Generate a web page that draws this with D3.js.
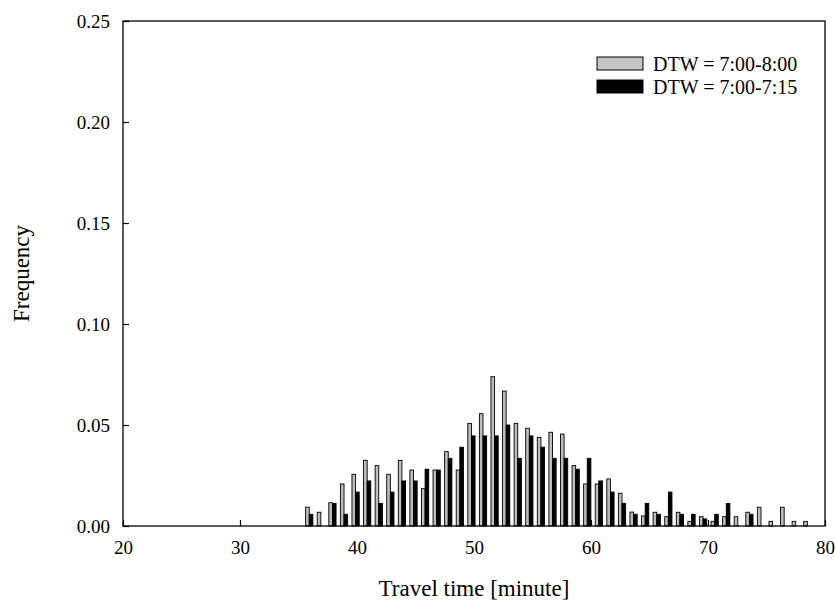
<!DOCTYPE html>
<html>
<head>
<meta charset="utf-8">
<script src="https://cdn.jsdelivr.net/npm/d3@7"></script>
<style>
  body { margin: 0; background: #fff; }
  svg { display: block; font-family: "Liberation Serif", "Times New Roman", serif; }
</style>
</head>
<body>
<div id="chart"></div>
<script>
// bin centres (minutes)
const binCenters = [35.92, 36.91, 37.90, 38.89, 39.88, 40.87, 41.86, 42.85, 43.84, 44.83,
  45.82, 46.81, 47.80, 48.79, 49.78, 50.77, 51.76, 52.75, 53.74, 54.73,
  55.72, 56.71, 57.70, 58.69, 59.68, 60.67, 61.66, 62.65, 63.64, 64.63,
  65.62, 66.61, 67.60, 68.59, 69.58, 70.57, 71.56, 72.55, 73.54, 74.53,
  75.52, 76.51, 77.50, 78.49];

// DTW = 7:00-8:00
const freqWide = [0.0093, 0.0068, 0.0115, 0.0208, 0.0256, 0.0325, 0.0299, 0.0256, 0.0325, 0.0277,
  0.0185, 0.0277, 0.0368, 0.0277, 0.0508, 0.0556, 0.0739, 0.0668, 0.0508, 0.0484,
  0.0439, 0.0464, 0.0455, 0.0299, 0.0208, 0.0208, 0.0233, 0.0162, 0.0069, 0.0050,
  0.0068, 0.0046, 0.0068, 0.0023, 0.0046, 0.0023, 0.0046, 0.0046, 0.0068, 0.0093,
  0.0023, 0.0093, 0.0023, 0.0023];

// DTW = 7:00-7:15
const freqNarrow = [0.0058, 0, 0.0112, 0.0058, 0.0168, 0.0223, 0.0112, 0.0168, 0.0223, 0.0223,
  0.0281, 0.0277, 0.0335, 0.0390, 0.0446, 0.0446, 0.0446, 0.0500, 0.0335, 0.0446,
  0.0390, 0.0335, 0.0335, 0.0281, 0.0335, 0.0223, 0.0168, 0.0112, 0.0058, 0.0112,
  0.0058, 0.0168, 0.0058, 0.0058, 0.0035, 0.0058, 0.0112, 0, 0.0058, 0,
  0, 0, 0, 0];

const seriesNames = ['DTW = 7:00-8:00', 'DTW = 7:00-7:15'];
const xTicks = [20, 30, 40, 50, 60, 70, 80];
const yTicks = [0, 0.05, 0.10, 0.15, 0.20, 0.25];

const width = 835, height = 603;
const margin = { top: 21, right: 10, bottom: 77, left: 123 };
const innerW = 825 - margin.left;
const innerH = height - margin.top - margin.bottom;

const svg = d3.select('#chart').append('svg')
  .attr('width', width)
  .attr('height', height);

const g = svg.append('g').attr('transform', `translate(${margin.left},${margin.top})`);

const x = d3.scaleLinear().domain([20, 80]).range([0, innerW]);
const y = d3.scaleLinear().domain([0, 0.25]).range([innerH, 0]);
const barW = x(20.31) - x(20);

// bars: grey on the left of each centre, black on the right
const bars = g.append('g');
binCenters.forEach((c, i) => {
  if (freqWide[i] > 0) {
    bars.append('rect')
      .attr('x', x(c) - barW)
      .attr('y', y(freqWide[i]))
      .attr('width', barW)
      .attr('height', y(0) - y(freqWide[i]))
      .attr('fill', '#bdbdbd')
      .attr('stroke', '#000')
      .attr('stroke-width', 0.9);
  }
  if (freqNarrow[i] > 0) {
    bars.append('rect')
      .attr('x', x(c))
      .attr('y', y(freqNarrow[i]))
      .attr('width', barW)
      .attr('height', y(0) - y(freqNarrow[i]))
      .attr('fill', '#000')
      .attr('stroke', '#000')
      .attr('stroke-width', 0.9);
  }
});

// axes (ticks point inward)
const xAxis = g.append('g').attr('transform', `translate(0,${innerH})`)
  .call(d3.axisBottom(x).tickValues(xTicks).tickSizeInner(-6).tickSizeOuter(0).tickPadding(15).tickFormat(d3.format('d')));
const yAxis = g.append('g')
  .call(d3.axisLeft(y).tickValues(yTicks).tickSizeInner(-6).tickSizeOuter(0).tickPadding(13).tickFormat(d3.format('.2f')));

[xAxis, yAxis].forEach(a => {
  a.attr('font-family', null).attr('font-size', 19);
  a.selectAll('text').attr('fill', '#000');
  a.selectAll('line').attr('stroke', '#000').attr('stroke-width', 1.2);
  a.select('.domain').remove();
});

// frame
g.append('rect')
  .attr('width', innerW)
  .attr('height', innerH)
  .attr('fill', 'none')
  .attr('stroke', '#000')
  .attr('stroke-width', 1.3);

// axis titles
svg.append('text')
  .attr('x', margin.left + x(50))
  .attr('y', 596)
  .attr('text-anchor', 'middle')
  .attr('font-size', 23)
  .text('Travel time [minute]');

svg.append('text')
  .attr('transform', `translate(29,${margin.top + innerH / 2}) rotate(-90)`)
  .attr('text-anchor', 'middle')
  .attr('font-size', 23)
  .text('Frequency');

// legend
const legend = svg.append('g').attr('transform', 'translate(597,57)');
const legendFill = ['#c4c4c4', '#000'];
seriesNames.forEach((name, i) => {
  const row = legend.append('g').attr('transform', `translate(0,${i * 23})`);
  row.append('rect')
    .attr('width', 46)
    .attr('height', 13)
    .attr('fill', legendFill[i])
    .attr('stroke', '#000')
    .attr('stroke-width', 1);
  row.append('text')
    .attr('x', 56)
    .attr('y', 7)
    .attr('dy', '0.35em')
    .attr('font-size', 20)
    .text(name);
});
</script>
</body>
</html>
